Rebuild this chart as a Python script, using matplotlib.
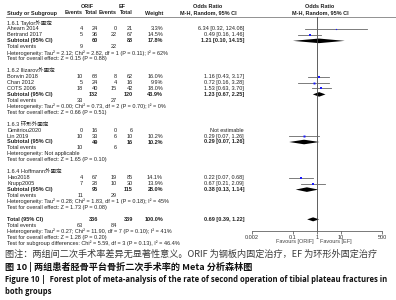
import numpy as np
import matplotlib
matplotlib.use("Agg")
import matplotlib.pyplot as plt

# fonts: small table text + CJK fallback, captions in CJK font
TXT = ['Liberation Sans', 'Noto Sans CJK SC']
CAP = ['Noto Sans CJK SC', 'DejaVu Sans']
ENG = ['Open Sans', 'DejaVu Sans']

# ---- data ----
group_titles = ['1.6.1 Taylor外固定', '1.6.2 Ilizarov外固定', '1.6.3 环形外固定', '1.6.4 Hoffmann外固定']
study_names = ['Ahearn 2014', 'Bertrand 2017', 'Bonvin 2018', 'Chan 2012', 'COTS 2006',
               'Dimitriou2020', 'Lin 2019', 'Hao2018', 'Krupp2005']
study_group = [0, 0, 1, 1, 1, 2, 2, 3, 3]
orif_events = [4, 5, 10, 5, 18, 0, 10, 4, 7]
orif_total = [24, 36, 68, 24, 40, 16, 33, 67, 28]
ef_events = [0, 22, 8, 4, 15, 0, 6, 19, 10]
ef_total = [21, 67, 62, 16, 42, 6, 10, 85, 30]
weights = [3.3, 14.5, 16.0, 9.9, 18.0, np.nan, 10.2, 14.1, 13.9]
or_est = [6.34, 0.49, 1.16, 0.72, 1.53, np.nan, 0.29, 0.22, 0.67]
or_lo = [0.32, 0.16, 0.43, 0.16, 0.63, np.nan, 0.07, 0.07, 0.21]
or_hi = [124.08, 1.46, 3.17, 3.28, 3.70, np.nan, 1.26, 0.68, 2.09]

sub_orif_total = [60, 132, 49, 95]
sub_ef_total = [88, 120, 16, 115]
sub_weight = [17.8, 43.9, 10.2, 28.0]
sub_est = [1.21, 1.23, 0.29, 0.38]
sub_lo = [0.10, 0.67, 0.07, 0.13]
sub_hi = [14.15, 2.25, 1.26, 1.14]
sub_orif_events = [9, 33, 10, 11]
sub_ef_events = [22, 27, 6, 29]
sub_het = ['Heterogeneity: Tau² = 2.12; Chi² = 2.82, df = 1 (P = 0.11); I² = 62%',
           'Heterogeneity: Tau² = 0.00; Chi² = 0.73, df = 2 (P = 0.70); I² = 0%',
           'Heterogeneity: Not applicable',
           'Heterogeneity: Tau² = 0.28; Chi² = 1.83, df = 1 (P = 0.18); I² = 45%']
sub_test = ['Test for overall effect: Z = 0.15 (P = 0.88)',
            'Test for overall effect: Z = 0.66 (P = 0.51)',
            'Test for overall effect: Z = 1.65 (P = 0.10)',
            'Test for overall effect: Z = 1.73 (P = 0.08)']

total_n = [336, 339]
total_events = [63, 84]
total_or = [0.69, 0.39, 1.22]
total_het = 'Heterogeneity: Tau² = 0.27; Chi² = 11.90, df = 7 (P = 0.10); I² = 41%'
total_test = 'Test for overall effect: Z = 1.28 (P = 0.20)'
subgroup_test = 'Test for subgroup differences: Chi² = 5.59, df = 3 (P = 0.13), I² = 46.4%'

ticks = [0.002, 0.1, 1, 10, 500]
tick_labels = ['0.002', '0.1', '1', '10', '500']

captions = ['图注：两组间二次手术率差异无显著性意义。ORIF 为钢板内固定治疗，EF 为环形外固定治疗',
            '图 10 | 两组患者胫骨平台骨折二次手术率的 Meta 分析森林图',
            'Figure 10 |  Forest plot of meta-analysis of the rate of second operation of tibial plateau fractures in',
            'both groups']

# ---- layout (pixels) ----
W, H = 396, 300
FS = 4.0
XL = 7
X_E1, X_T1, X_E2, X_T2, X_W, X_CI = 83, 98, 117, 133, 163, 244
X_OR = 208                 # centre of the numeric odds ratio header
X0, X1 = 252, 382          # 0.002 .. 500
Y0, Y1 = 16.5, 231         # header rule .. axis line
STEP = 5.95

fig = plt.figure(figsize=(W / 100, H / 100), dpi=100)
bg = fig.add_axes([0, 0, 1, 1])
bg.set_xlim(0, W)
bg.set_ylim(H, 0)
bg.axis('off')

fp = fig.add_axes([X0 / W, 1 - Y1 / H, (X1 - X0) / W, (Y1 - Y0) / H])
fp.set_xscale('log')
fp.set_xlim(0.002, 500)
fp.set_ylim(Y1, Y0)
for s in ['top', 'left', 'right']:
    fp.spines[s].set_visible(False)
fp.spines['bottom'].set_linewidth(0.5)
fp.spines['bottom'].set_color('#444444')
fp.set_yticks([])
fp.set_xticks(ticks)
fp.set_xticklabels(tick_labels, fontsize=FS, family=TXT, color='#333333')
fp.minorticks_off()
fp.tick_params(axis='x', length=2, width=0.5, pad=0.8, color='#444444')
fp.axvline(1, color='#444444', lw=0.6)
fp.patch.set_alpha(0)


def t(x, y, s, ha='left', bold=False, color='#222222'):
    bg.text(x, y, s, ha=ha, va='center', fontsize=FS, family=TXT,
            fontweight='bold' if bold else 'normal', color=color)


def diamond(y, est, lo, hi, h=2.3):
    fp.fill([lo, est, hi, est], [y, y - h, y, y + h], color='black', lw=0)


def fmt_ci(e, lo, hi):
    return f'{e:.2f} [{lo:.2f}, {hi:.2f}]'


# header
t(87, 7, 'ORIF', ha='center', bold=True)
t(122, 7, 'EF', ha='center', bold=True)
t(X_OR, 7, 'Odds Ratio', ha='center', bold=True)
t(320, 7, 'Odds Ratio', ha='center', bold=True)
t(XL, 13, 'Study or Subgroup', bold=True)
t(X_E1, 13, 'Events', ha='right', bold=True)
t(X_T1, 13, 'Total', ha='right', bold=True)
t(X_E2, 13, 'Events', ha='right', bold=True)
t(X_T2, 13, 'Total', ha='right', bold=True)
t(X_W, 13, 'Weight', ha='right', bold=True)
t(X_OR, 13, 'M-H, Random, 95% CI', ha='center', bold=True)
t(320, 13, 'M-H, Random, 95% CI', ha='center', bold=True)
bg.plot([XL - 1, W], [Y0, Y0], color='#666666', lw=0.5)

y = 23
for g, title in enumerate(group_titles):
    t(XL, y, title)
    for i in [k for k in range(len(study_names)) if study_group[k] == g]:
        y += STEP
        t(XL, y, study_names[i])
        t(X_E1, y, str(orif_events[i]), ha='right')
        t(X_T1, y, str(orif_total[i]), ha='right')
        t(X_E2, y, str(ef_events[i]), ha='right')
        t(X_T2, y, str(ef_total[i]), ha='right')
        if np.isnan(or_est[i]):
            t(X_CI, y, 'Not estimable', ha='right')
            continue
        t(X_W, y, f'{weights[i]:.1f}%', ha='right')
        t(X_CI, y, fmt_ci(or_est[i], or_lo[i], or_hi[i]), ha='right')
        fp.plot([or_lo[i], or_hi[i]], [y, y], color='#666666', lw=0.6)
        fp.plot(or_est[i], y, 's', color='#1a1aff', ms=0.45 * np.sqrt(weights[i]), mew=0)
    y += STEP
    t(XL, y, 'Subtotal (95% CI)', bold=True)
    t(X_T1, y, str(sub_orif_total[g]), ha='right', bold=True)
    t(X_T2, y, str(sub_ef_total[g]), ha='right', bold=True)
    t(X_W, y, f'{sub_weight[g]:.1f}%', ha='right', bold=True)
    t(X_CI, y, fmt_ci(sub_est[g], sub_lo[g], sub_hi[g]), ha='right', bold=True)
    diamond(y, sub_est[g], sub_lo[g], sub_hi[g])
    y += STEP
    t(XL, y, 'Total events')
    t(X_E1, y, str(sub_orif_events[g]), ha='right')
    t(X_E2, y, str(sub_ef_events[g]), ha='right')
    y += STEP
    t(XL, y, sub_het[g])
    y += STEP
    t(XL, y, sub_test[g])
    y += 2 * STEP

t(XL, y, 'Total (95% CI)', bold=True)
t(X_T1, y, str(total_n[0]), ha='right', bold=True)
t(X_T2, y, str(total_n[1]), ha='right', bold=True)
t(X_W, y, '100.0%', ha='right', bold=True)
t(X_CI, y, fmt_ci(*total_or), ha='right', bold=True)
diamond(y, *total_or, h=2.0)
y += STEP
t(XL, y, 'Total events')
t(X_E1, y, str(total_events[0]), ha='right')
t(X_E2, y, str(total_events[1]), ha='right')
y += STEP
t(XL, y, total_het)
y += STEP
t(XL, y, total_test)
y += STEP
t(XL, y, subgroup_test)

t(314, Y1 + 10.5, 'Favours [ORIF]', ha='right', color='#444444')
t(320, Y1 + 10.5, 'Favours [EF]', color='#444444')

# captions
bg.text(5, 254, captions[0], fontsize=6.6, family=CAP, color='#3a3a3a', va='center')
bg.text(5, 266.5, captions[1], fontsize=6.6, family=CAP, color='#111111', va='center', fontweight='bold')
bg.text(5, 279, captions[2], fontsize=5.5, family=ENG, color='#111111', va='center', fontweight='bold')
bg.text(5, 291, captions[3], fontsize=5.5, family=ENG, color='#111111', va='center', fontweight='bold')

fig.savefig('out.png', dpi=100)
